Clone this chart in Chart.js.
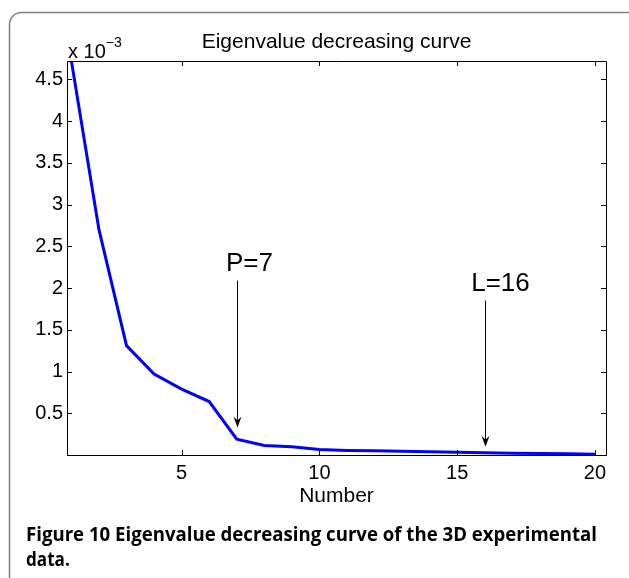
<!DOCTYPE html>
<html>
<head>
<meta charset="utf-8">
<script src="https://cdn.jsdelivr.net/npm/chart.js@4.4.0/dist/chart.umd.min.js"></script>
<style>
  html, body { margin: 0; padding: 0; background: #fff; }
  #wrap { width: 629px; height: 578px; }
</style>
</head>
<body>
<div id="wrap"><canvas id="chart" width="629" height="578"></canvas></div>
<script>
// eigenvalues, in units of 10^-3
const numbers = [1,2,3,4,5,6,7,8,9,10,11,12,13,14,15,16,17,18,19,20];
const eigenvalues = [4.72,2.70,1.31,0.97,0.79,0.64,0.19,0.115,0.10,0.065,0.055,0.05,0.045,0.038,0.032,0.027,0.02,0.018,0.015,0.01];
const xTicks = [5,10,15,20];
const yTicks = [0.5,1,1.5,2,2.5,3,3.5,4,4.5];

// arrow markers: label, x, arrow start, arrow tip
const markerLabels = ["P=7","L=16"];
const markerAt = [7,16];
const markerFrom = [2.09,1.85];
const markerTo = [0.33,0.10];

const MATLAB_FONT = '"Liberation Sans", Arial, Helvetica, sans-serif';

const decorations = {
  id: "decorations",
  afterDraw(chart) {
    const ctx = chart.ctx;
    const a = chart.chartArea;
    const xs = chart.scales.x, ys = chart.scales.y;
    ctx.save();

    // page frame
    ctx.strokeStyle = "#808080";
    ctx.lineWidth = 1.5;
    ctx.beginPath();
    ctx.moveTo(9.5, 600);
    ctx.lineTo(9.5, 24);
    ctx.arcTo(9.5, 12.5, 21.5, 12.5, 12);
    ctx.lineTo(640, 12.5);
    ctx.stroke();

    // box top / right
    ctx.strokeStyle = "#000";
    ctx.lineWidth = 1;
    ctx.beginPath();
    ctx.moveTo(a.left, a.top + 0.5);
    ctx.lineTo(a.right + 0.5, a.top + 0.5);
    ctx.lineTo(a.right + 0.5, a.bottom);
    ctx.stroke();

    // inward ticks on all four sides
    const tl = 5;
    ctx.beginPath();
    xTicks.forEach(v => {
      const px = Math.round(xs.getPixelForValue(v)) + 0.5;
      ctx.moveTo(px, a.bottom); ctx.lineTo(px, a.bottom - tl);
      ctx.moveTo(px, a.top); ctx.lineTo(px, a.top + tl);
    });
    yTicks.forEach(v => {
      const py = Math.round(ys.getPixelForValue(v)) + 0.5;
      ctx.moveTo(a.left, py); ctx.lineTo(a.left + tl, py);
      ctx.moveTo(a.right, py); ctx.lineTo(a.right - tl, py);
    });
    ctx.stroke();

    // title and exponent
    ctx.fillStyle = "#000";
    ctx.font = "21px " + MATLAB_FONT;
    ctx.textAlign = "center";
    ctx.textBaseline = "alphabetic";
    ctx.fillText("Eigenvalue decreasing curve", (a.left + a.right) / 2, 48);
    ctx.textAlign = "left";
    ctx.font = "20px " + MATLAB_FONT;
    ctx.fillText("x 10", 68, 58);
    const w = ctx.measureText("x 10").width;
    ctx.font = "14px " + MATLAB_FONT;
    ctx.fillText("\u22123", 68 + w, 47);

    // axis label
    ctx.font = "21px " + MATLAB_FONT;
    ctx.textAlign = "center";
    ctx.fillText("Number", (a.left + a.right) / 2, 501.5);

    // arrows
    ctx.lineWidth = 1;
    markerLabels.forEach((lab, i) => {
      const px = Math.round(xs.getPixelForValue(markerAt[i])) + 0.5;
      const y0 = ys.getPixelForValue(markerFrom[i]);
      const y1 = ys.getPixelForValue(markerTo[i]);
      ctx.beginPath();
      ctx.moveTo(px, y0); ctx.lineTo(px, y1 - 4);
      ctx.stroke();
      ctx.beginPath();
      ctx.moveTo(px, y1);
      ctx.lineTo(px - 4, y1 - 11);
      ctx.lineTo(px, y1 - 7);
      ctx.lineTo(px + 4, y1 - 11);
      ctx.closePath();
      ctx.fill();
      ctx.font = "26px " + MATLAB_FONT;
      ctx.textAlign = "center";
      ctx.fillText(lab, px + (i === 0 ? 12 : 15), y0 - 10);
    });

    // caption
    const capFont = '"Open Sans", "Noto Sans", sans-serif';
    const drawCaption = (parts, x, y, targetW) => {
      let total = 0;
      parts.forEach(p => { ctx.font = p[1] + " 19px " + capFont; total += ctx.measureText(p[0]).width; });
      const sx = targetW ? targetW / total : 0.9;
      ctx.save();
      ctx.translate(x, y);
      ctx.scale(sx, 1);
      ctx.textAlign = "left";
      let cx = 0;
      parts.forEach(p => {
        ctx.font = p[1] + " 19px " + capFont;
        ctx.fillText(p[0], cx, 0);
        cx += ctx.measureText(p[0]).width;
      });
      ctx.restore();
    };
    drawCaption([["Figure 10", "bold"], [" Eigenvalue decreasing curve of the 3D experimental", "bold"]], 26, 541, 571);
    drawCaption([["data.", "bold"]], 26, 566, 0);

    ctx.restore();
  }
};

new Chart(document.getElementById("chart"), {
  type: "line",
  data: {
    datasets: [{
      data: numbers.map((n, i) => ({ x: n, y: eigenvalues[i] })),
      borderColor: "#0000ff",
      borderWidth: 3,
      pointRadius: 0,
      tension: 0,
      fill: false
    }]
  },
  options: {
    responsive: false,
    animation: false,
    devicePixelRatio: 1,
    layout: { padding: { left: 0, top: 61, right: 23, bottom: 0 } },
    plugins: { legend: { display: false }, title: { display: false }, tooltip: { enabled: false } },
    scales: {
      x: {
        type: "linear",
        min: 0.84,
        max: 20.4,
        grid: { display: false, drawTicks: false },
        border: { display: true, color: "#000", width: 1 },
        ticks: { color: "#000", font: { family: MATLAB_FONT, size: 20 }, padding: 6, maxRotation: 0,
                 callback: v => String(v) },
        afterBuildTicks: s => { s.ticks = xTicks.map(v => ({ value: v })); },
        afterFit: s => { s.height = 123; }
      },
      y: {
        type: "linear",
        min: 0,
        max: 4.72,
        grid: { display: false, drawTicks: false },
        border: { display: true, color: "#000", width: 1 },
        ticks: { color: "#000", font: { family: MATLAB_FONT, size: 20 }, padding: 4,
                 callback: v => String(v) },
        afterBuildTicks: s => { s.ticks = yTicks.map(v => ({ value: v })); },
        afterFit: s => { s.width = 67; }
      }
    }
  },
  plugins: [decorations]
});
</script>
</body>
</html>
